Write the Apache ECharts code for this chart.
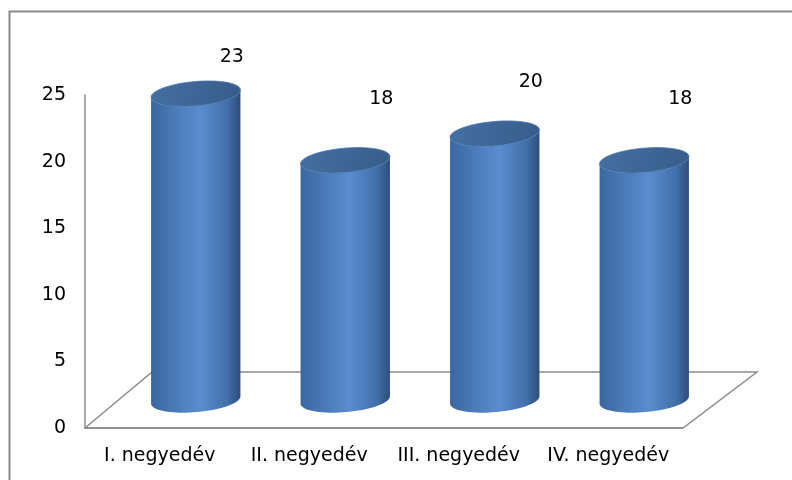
<!DOCTYPE html>
<html>
<head>
<meta charset="utf-8">
<script src="https://cdn.jsdelivr.net/npm/echarts@6/dist/echarts.min.js"></script>
<style>html,body{margin:0;padding:0;background:#fff}#c{width:792px;height:480px}</style>
</head>
<body>
<div id="c"></div>
<script>
var categories = ['I. negyedév', 'II. negyedév', 'III. negyedév', 'IV. negyedév'];
var values = [23, 18, 20, 18];
var yTicks = [0, 5, 10, 15, 20, 25];

var FONT = 'DejaVu Sans';
var DX = 36, DY = -28;           // mid-depth offset of cylinders
var BACK_L = [67, -56], BACK_R = [74, -56]; // floor depth (perspective)
var TILT = -5 * Math.PI / 180;

function ellPts(cx, cy, rx, ry, a, t0, t1, n) {
  var pts = [];
  for (var k = 0; k <= n; k++) {
    var t = t0 + (t1 - t0) * k / n;
    pts.push([cx + rx * Math.cos(t) * Math.cos(a) - ry * Math.sin(t) * Math.sin(a),
              cy + rx * Math.cos(t) * Math.sin(a) + ry * Math.sin(t) * Math.cos(a)]);
  }
  return pts;
}

function renderCyl(params, api) {
  var idx = api.value(0), v = api.value(1);
  var top = api.coord([idx, v]);
  var base = api.coord([idx, 0]);
  var w = api.size([1, 0])[0] * 0.6;
  var rx = w / 2, ry = w * 0.135;
  var cx = top[0] + DX, ty = top[1] + DY, by = base[1] + DY;
  var body = ellPts(cx, by, rx, ry, TILT, Math.PI, 0, 40)
    .concat(ellPts(cx, ty, rx, ry, TILT, 0, Math.PI, 40));
  var grad = new echarts.graphic.LinearGradient(0, 0, 1, 0, [
    {offset: 0, color: '#3a67a0'},
    {offset: 0.2, color: '#4675b2'},
    {offset: 0.55, color: '#5a8dcf'},
    {offset: 0.85, color: '#4270aa'},
    {offset: 1, color: '#2e4e7a'}
  ]);
  var topGrad = new echarts.graphic.LinearGradient(0, 0, 1, 1, [
    {offset: 0, color: '#456fa3'},
    {offset: 1, color: '#375c8a'}
  ]);
  var labelY = ty - (0.36 * ty + 3);
  return {
    type: 'group',
    children: [
      {type: 'polygon', shape: {points: body}, style: {fill: grad}},
      {type: 'polygon', shape: {points: ellPts(cx, ty, rx, ry, TILT, 0, 2 * Math.PI, 80)},
       style: {fill: topGrad, stroke: '#4a78b0', lineWidth: 0.8}},
      {type: 'text', x: cx + 36, y: labelY,
       style: {text: String(v), fill: '#000', font: '19px ' + FONT, align: 'center', verticalAlign: 'middle'}}
    ]
  };
}

function renderFloor(params, api) {
  var cs = params.coordSys;
  var x0 = cs.x, x1 = cs.x + cs.width, yb = cs.y + cs.height;
  return {
    type: 'polyline',
    shape: {points: [[x0, yb], [x1, yb], [x1 + BACK_R[0], yb + BACK_R[1]],
                     [x0 + BACK_L[0], yb + BACK_L[1]], [x0, yb]]},
    style: {stroke: '#8c8c8c', lineWidth: 1.5, fill: null}
  };
}

var chart = echarts.init(document.getElementById('c'), null, {renderer: 'canvas'});
chart.setOption({
  animation: false,
  backgroundColor: '#fff',
  graphic: [{
    type: 'rect', left: 7, top: 9, shape: {width: 820, height: 500},
    style: {fill: null, stroke: '#8a8a8a', lineWidth: 2}, z: 0
  }],
  grid: {left: 85, right: 109, top: 95, bottom: 52},
  xAxis: {
    type: 'category', data: categories,
    axisLine: {show: true, lineStyle: {color: '#8c8c8c', width: 1.5}},
    axisTick: {show: false},
    axisLabel: {color: '#000', fontFamily: FONT, fontSize: 19, margin: 19, interval: 0}
  },
  yAxis: {
    type: 'value', min: yTicks[0], max: yTicks[yTicks.length - 1], interval: yTicks[1] - yTicks[0],
    axisLine: {show: true, lineStyle: {color: '#8c8c8c', width: 1.5}},
    axisTick: {show: false},
    splitLine: {show: false},
    axisLabel: {color: '#000', fontFamily: FONT, fontSize: 19, margin: 19}
  },
  series: [
    {type: 'custom', renderItem: renderFloor, data: [[0, 0]], z: 1, silent: true},
    {type: 'custom', renderItem: renderCyl, z: 2,
     data: values.map(function (v, i) { return [i, v]; }),
     encode: {x: 0, y: 1}}
  ]
});
</script>
</body>
</html>
